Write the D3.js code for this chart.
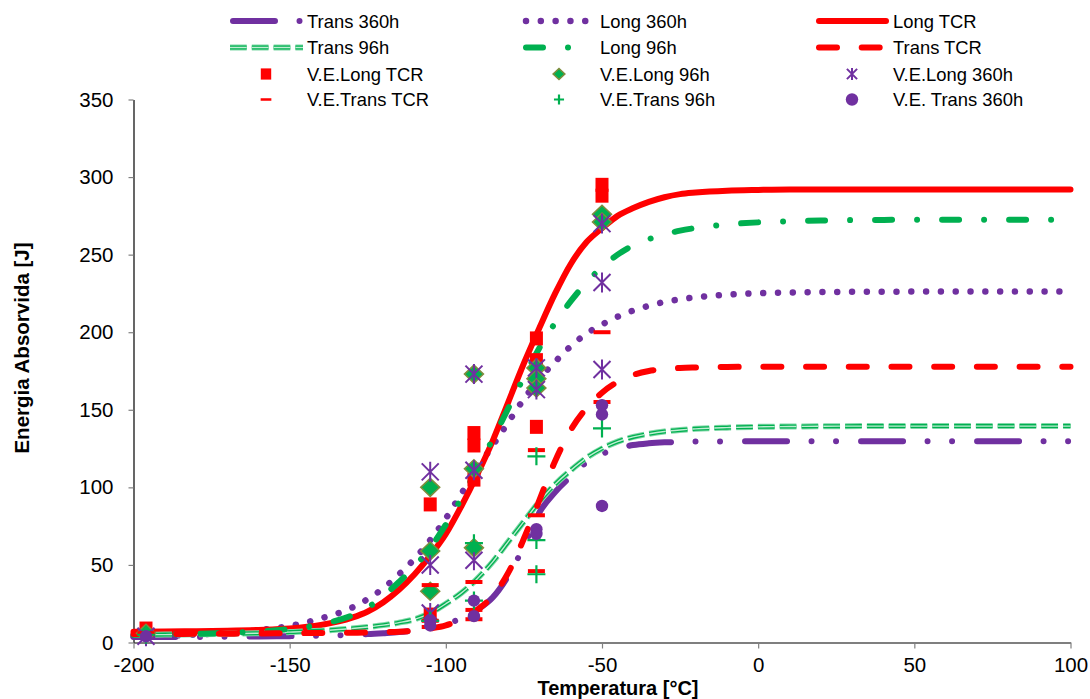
<!DOCTYPE html>
<meta charset="utf-8">
<script src="https://d3js.org/d3.v7.min.js"></script>
<style>
  body { margin: 0; background: #fff; }
  text { font-family: "Liberation Sans", Arial, sans-serif; fill: #000; }
</style>
<div id="chart"></div>
<script>
// temperatures where the fitted curves were read
const lineTemps = [-200,-190,-180,-170,-160,-150,-140,-130,-125,-120,-115,-110,-105,-100,-95,-90,-85,-80,-75,-70,-65,-60,-55,-50,-45,-40,-35,-30,-25,-20,-10,0,10,20,40,60,80,100];

// fitted curves [J]
const trans360 = [3.5,3.5,3.6,3.7,3.9,4.1,4.4,5,5.4,6,6.7,7.8,9.5,12,15.5,21,29,43,62,84,97,107,116,121.5,125,127.3,128.4,129,129.3,129.5,129.6,129.7,129.7,129.7,129.7,129.7,129.7,129.7];
const long360 = [4,4.4,5.1,6.2,7.9,10.7,15.5,22.5,28,35,44,54,66,80,96,112,127,142,157,170,181,191,199,205,210,214,217,219.5,221.2,222.5,224.2,225.1,225.6,225.9,226.1,226.2,226.2,226.2];
const longTCR = [7,7.1,7.3,7.6,8.1,9,11.3,16,20,26,34,44,56,70,88,108,130,155,180,203,225,244,258,267,275,280,284,287,289,290,291.2,291.7,292,292,292,292,292,292];
const trans96 = [5,5.1,5.3,5.6,6,6.7,7.6,9,10,11.2,12.8,15,19,25,32,41,52,65,78,91,102,111,119,125,129.5,132.5,134.5,136,137,137.7,138.5,139,139.2,139.4,139.5,139.5,139.5,139.5];
const long96 = [5,5.2,5.6,6.2,7.1,8.7,11.8,17.5,22.5,30,39,49,61,76,93,112,131,151,171,190,206,220,232,242,250,256,260,263,265.5,267.2,269.5,270.8,271.5,272,272.4,272.5,272.5,272.5];
const transTCR = [5.5,5.5,5.6,5.7,5.8,6,6.1,6.3,6.5,6.7,7,7.7,9,11,15,21,30,45,67,92,117,137,151,161,168,172.5,175,176.3,177,177.3,177.6,177.7,177.7,177.7,177.7,177.7,177.7,177.7];

// test results (V.E.)
const veLongTCRT = [-196,-105,-105,-91,-91,-91,-71,-71,-71,-50,-50];
const veLongTCR  = [9,89,18,135,127,105,196,182,139,295,288];
const veLong96T  = [-196,-105,-105,-105,-91,-91,-91,-71,-71,-71,-50,-50];
const veLong96   = [6,100,59,33,173,112,61,177,170,164,276,271];
const veLong360T = [-196,-105,-105,-105,-91,-91,-91,-71,-71,-50,-50,-50];
const veLong360  = [4,110,50,19,173,111,53,177,163,270,232,176];
const veTransTCRT = [-196,-105,-105,-105,-91,-91,-91,-71,-71,-71,-50,-50];
const veTransTCR  = [6,37,14,10,39,21,15,124,82,46,200,155];
const veTrans96T  = [-196,-105,-91,-91,-71,-71,-71,-50];
const veTrans96   = [5,14,64,27,120,66,44,138];
const veTrans360T = [-196,-105,-105,-91,-91,-71,-71,-50,-50,-50];
const veTrans360  = [4,14,11,27,17,73,70,153,147,88];

const xTicks = [-200,-150,-100,-50,0,50,100];
const yTicks = [0,50,100,150,200,250,300,350];

const RED = "#ff0000", PURPLE = "#7030a0", GREEN = "#00b050";

const lines = [
  {name: "Trans 360h", vals: trans360, color: PURPLE, width: 6, dash: "42,24.5,0.01,24.5,0.01,25"},
  {name: "Long 360h", vals: long360, color: PURPLE, width: 6.5, dash: "0.01,14.8"},
  {name: "Long TCR", vals: longTCR, color: RED, width: 6, dash: null},
  {name: "Trans 96h", vals: trans96, color: GREEN, width: 6, dash: "16.7,5.1", compound: true},
  {name: "Long 96h", vals: long96, color: GREEN, width: 6, dash: "17,25,0.01,25"},
  {name: "Trans TCR", vals: transTCR, color: RED, width: 6, dash: "18,24.7"}
];

const points = [
  {name: "V.E.Long TCR", t: veLongTCRT, v: veLongTCR, type: "square", ls: 0.8},
  {name: "V.E.Long 96h", t: veLong96T, v: veLong96, type: "diamond", ls: 0.62},
  {name: "V.E.Long 360h", t: veLong360T, v: veLong360, type: "star", ls: 0.6},
  {name: "V.E.Trans TCR", t: veTransTCRT, v: veTransTCR, type: "dash", ls: 0.63},
  {name: "V.E.Trans 96h", t: veTrans96T, v: veTrans96, type: "plus", ls: 0.56},
  {name: "V.E. Trans 360h", t: veTrans360T, v: veTrans360, type: "circle", ls: 1}
];

const svg = d3.select("#chart").append("svg")
  .attr("width", 1090)
  .attr("height", 699);

const x = d3.scaleLinear().domain([-200, 100]).range([133.5, 1070.5]);
const y = d3.scaleLinear().domain([0, 350]).range([642.5, 99.5]);

// axes (plain hyphen for negatives, as in the original)
const gy = svg.append("g")
  .attr("transform", "translate(133.5,0)")
  .call(d3.axisLeft(y).tickValues(yTicks).tickFormat(d => String(d))
    .tickSize(5).tickSizeOuter(0).tickPadding(15));
const gx = svg.append("g")
  .attr("transform", "translate(0,642.5)")
  .call(d3.axisBottom(x).tickValues(xTicks).tickFormat(d => String(d))
    .tickSize(6).tickSizeOuter(0).tickPadding(9));
[gx, gy].forEach(g => {
  g.select(".domain").attr("stroke", "#000").attr("stroke-width", 1.2);
  g.selectAll(".tick line").attr("stroke", "#808080").attr("stroke-width", 1.2);
  g.selectAll(".tick text")
    .style("font-family", '"Liberation Sans", Arial, sans-serif')
    .style("font-size", "20.5px")
    .attr("fill", "#000");
});

svg.append("text")
  .attr("x", 618).attr("y", 695)
  .attr("text-anchor", "middle")
  .style("font-weight", "bold").style("font-size", "20px")
  .text("Temperatura [°C]");
svg.append("text")
  .attr("transform", "translate(29,348) rotate(-90)")
  .attr("text-anchor", "middle")
  .style("font-weight", "bold").style("font-size", "20.5px")
  .text("Energia Absorvida [J]");

// draw a path with one series' stroke style
function strokeLine(g, s, d) {
  if (s.compound) {
    const layers = [[6, "#80d8a8"], [4, GREEN], [1.4, "#bfeed3"]];
    layers.forEach(l => {
      g.append("path").attr("d", d).attr("fill", "none")
        .attr("stroke", l[1]).attr("stroke-width", l[0])
        .attr("stroke-dasharray", s.dash).attr("stroke-linecap", "butt");
    });
  } else {
    g.append("path").attr("d", d).attr("fill", "none")
      .attr("stroke", s.color).attr("stroke-width", s.width)
      .attr("stroke-dasharray", s.dash)
      .attr("stroke-linecap", "round").attr("stroke-linejoin", "round");
  }
}

const line = d3.line()
  .x((d, i) => x(lineTemps[i]))
  .y(d => y(d))
  .curve(d3.curveMonotoneX);

const gLines = svg.append("g");
lines.forEach(s => strokeLine(gLines, s, line(s.vals)));

// markers
function marker(g, type, k) {
  if (type == "square") {
    g.append("rect").attr("x", -6.5 * k).attr("y", -7 * k)
      .attr("width", 13 * k).attr("height", 14 * k).attr("fill", RED);
  } else if (type == "diamond") {
    g.append("path")
      .attr("d", `M0,${-9 * k}L${9.5 * k},0L0,${9 * k}L${-9.5 * k},0Z`)
      .attr("fill", GREEN).attr("stroke", "#7f8c3c").attr("stroke-width", 1.5);
  } else if (type == "star") {
    const a = 8.5 * k, b = 10 * k;
    g.append("path")
      .attr("d", `M${-a},${-a}L${a},${a}M${-a},${a}L${a},${-a}M0,${-b}L0,${b}`)
      .attr("stroke", PURPLE).attr("stroke-width", 2).attr("fill", "none");
  } else if (type == "dash") {
    g.append("rect").attr("x", -8.5 * k).attr("y", -2 * k)
      .attr("width", 17 * k).attr("height", Math.max(4 * k, 2.5)).attr("fill", RED);
  } else if (type == "plus") {
    const a = 9 * k;
    g.append("path")
      .attr("d", `M${-a},0H${a}M0,${-a}V${a}`)
      .attr("stroke", GREEN).attr("stroke-width", 2.2).attr("fill", "none");
  } else if (type == "circle") {
    g.append("circle").attr("r", 6.2 * k).attr("fill", PURPLE);
  }
}

const gPts = svg.append("g");
points.forEach(s => {
  s.v.forEach((v, i) => {
    const g = gPts.append("g")
      .attr("transform", `translate(${x(s.t[i])},${y(v)})`);
    marker(g, s.type, 1);
  });
});

// legend, 3 columns filled row by row
const colX = [230, 523, 816];
const rowY = [21, 47.5, 74, 99.5];
const legend = svg.append("g");
const entries = lines.concat(points);
entries.forEach((s, i) => {
  const cx = colX[i % 3], cy = rowY[Math.floor(i / 3)];
  if (s.type) {
    const g = legend.append("g").attr("transform", `translate(${cx + 36},${cy})`);
    marker(g, s.type, s.ls);
  } else if (s.compound) {
    strokeLine(legend, s, `M${cx},${cy}H${cx + 73}`);
  } else {
    strokeLine(legend, s, `M${cx + 3},${cy}H${cx + 70}`);
  }
  legend.append("text")
    .attr("x", cx + 77).attr("y", cy + 6.5)
    .style("font-size", "18.4px")
    .text(s.name);
});
</script>
